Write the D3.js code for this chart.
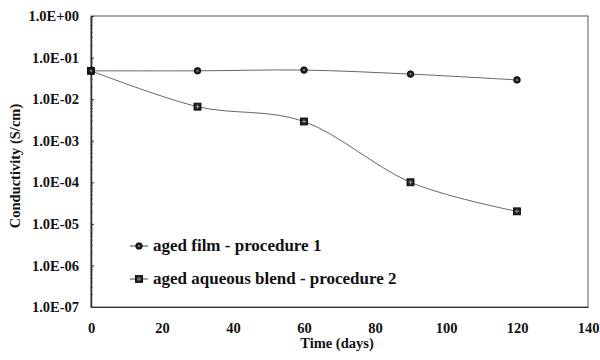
<!doctype html>
<html>
  <head>
    <script src="https://cdnjs.cloudflare.com/ajax/libs/d3/7.8.5/d3.min.js"></script>
    <style>
      body { margin: 0; background: #fff; }
      text { font-family: "Liberation Serif", "DejaVu Serif", serif; font-weight: bold; fill: #111; }
    </style>
  </head>
  <body>
    <svg width="600" height="360"></svg>
    <script>
        // data
        var days = [0, 30, 60, 90, 120];
        var film = [4.8e-2, 4.8e-2, 5.0e-2, 4.0e-2, 2.9e-2];
        var blend = [4.8e-2, 6.6e-3, 2.9e-3, 1.0e-4, 2.0e-5];
        var seriesNames = ["aged film - procedure 1", "aged aqueous blend - procedure 2"];
        var xTicks = [0, 20, 40, 60, 80, 100, 120, 140];
        var yTicks = [1, 1e-1, 1e-2, 1e-3, 1e-4, 1e-5, 1e-6, 1e-7];
        var yLabels = ["1.0E+00", "1.0E-01", "1.0E-02", "1.0E-03", "1.0E-04", "1.0E-05", "1.0E-06", "1.0E-07"];

        var plotL = 91, plotT = 16, plotR = 588, plotB = 307;
        var svg = d3.select("svg");

        var xScale = d3.scaleLinear().domain([0, 140]).range([plotL, plotR]);
        var yScale = d3.scaleLog().domain([1e-7, 1]).range([plotB, plotT]);

        // plot frame
        svg.append("rect")
            .attr("x", plotL).attr("y", plotT)
            .attr("width", plotR - plotL).attr("height", plotB - plotT)
            .style("fill", "none").style("stroke", "#555").style("stroke-width", 1);

        // minor ticks on the log axis
        var minor = [];
        for (var e = -7; e < 0; e++) {
            for (var m = 2; m < 10; m++) minor.push(m * Math.pow(10, e));
        }
        svg.append("g").selectAll("line").data(minor).enter().append("line")
            .attr("x1", plotL).attr("x2", plotL + 2)
            .attr("y1", d => yScale(d)).attr("y2", d => yScale(d))
            .style("stroke", "#888").style("stroke-width", 1);

        var yAxis = d3.axisLeft(yScale)
            .tickValues(yTicks)
            .tickSizeInner(-3).tickSizeOuter(0).tickPadding(12)
            .tickFormat((d, i) => yLabels[i]);

        var gy = svg.append("g")
            .attr("transform", "translate(" + plotL + ",0)")
            .call(yAxis);
        gy.select(".domain").style("stroke", "#333").style("stroke-width", 1.5);
        gy.selectAll(".tick line").style("stroke", "#333");
        gy.selectAll("text").style("font-size", "14.5px").style("font-family", null);

        var xAxis = d3.axisBottom(xScale)
            .tickValues(xTicks)
            .tickSize(0).tickPadding(16)
            .tickFormat(d3.format("d"));

        var gx = svg.append("g")
            .attr("transform", "translate(0," + plotB + ")")
            .call(xAxis);
        gx.select(".domain").style("stroke", "#333");
        gx.selectAll("text").style("font-size", "14.5px").style("font-family", null);

        // axis titles
        svg.append("text")
            .attr("x", 337).attr("y", 348)
            .attr("text-anchor", "middle")
            .style("font-size", "14.5px")
            .text("Time (days)");

        svg.append("text")
            .attr("transform", "translate(20,166) rotate(-90)")
            .attr("text-anchor", "middle")
            .style("font-size", "14.5px")
            .text("Conductivity (S/cm)");

        var line = d3.line()
            .x(d => xScale(d[0]))
            .y(d => yScale(d[1]))
            .curve(d3.curveCatmullRom.alpha(0));

        var filmPts = days.map((d, i) => [d, film[i]]);
        var blendPts = days.map((d, i) => [d, blend[i]]);

        [filmPts, blendPts].forEach(pts => {
            svg.append("path")
                .datum(pts)
                .attr("d", line)
                .style("fill", "none")
                .style("stroke", "#666")
                .style("stroke-width", 1);
        });

        function circleMarker(g, x, y) {
            g.append("circle").attr("cx", x).attr("cy", y).attr("r", 3.3)
                .style("fill", "#222").style("stroke", "#000").style("stroke-width", 0.8);
            g.append("circle").attr("cx", x).attr("cy", y).attr("r", 1)
                .style("fill", "#999");
        }

        function squareMarker(g, x, y) {
            g.append("rect").attr("x", x - 3.5).attr("y", y - 3.5)
                .attr("width", 7).attr("height", 7)
                .style("fill", "#222").style("stroke", "#000").style("stroke-width", 0.8);
            g.append("path")
                .attr("d", "M" + (x - 2) + "," + y + "H" + (x + 2) + "M" + x + "," + (y - 2) + "V" + (y + 2))
                .style("stroke", "#aaa").style("stroke-width", 0.8);
        }

        var markers = svg.append("g");
        blendPts.forEach(d => squareMarker(markers, xScale(d[0]), yScale(d[1])));
        filmPts.forEach(d => circleMarker(markers, xScale(d[0]), yScale(d[1])));

        // legend
        var legend = svg.append("g");
        var rows = [246, 279];
        rows.forEach((y, i) => {
            legend.append("line")
                .attr("x1", 130).attr("x2", 148).attr("y1", y).attr("y2", y)
                .style("stroke", "#444").style("stroke-width", 1);
            if (i === 0) circleMarker(legend, 139, y);
            else squareMarker(legend, 139, y);
            legend.append("text")
                .attr("x", 153).attr("y", y + 5)
                .style("font-size", "17px")
                .text(seriesNames[i]);
        });
    </script>
  </body>
</html>
